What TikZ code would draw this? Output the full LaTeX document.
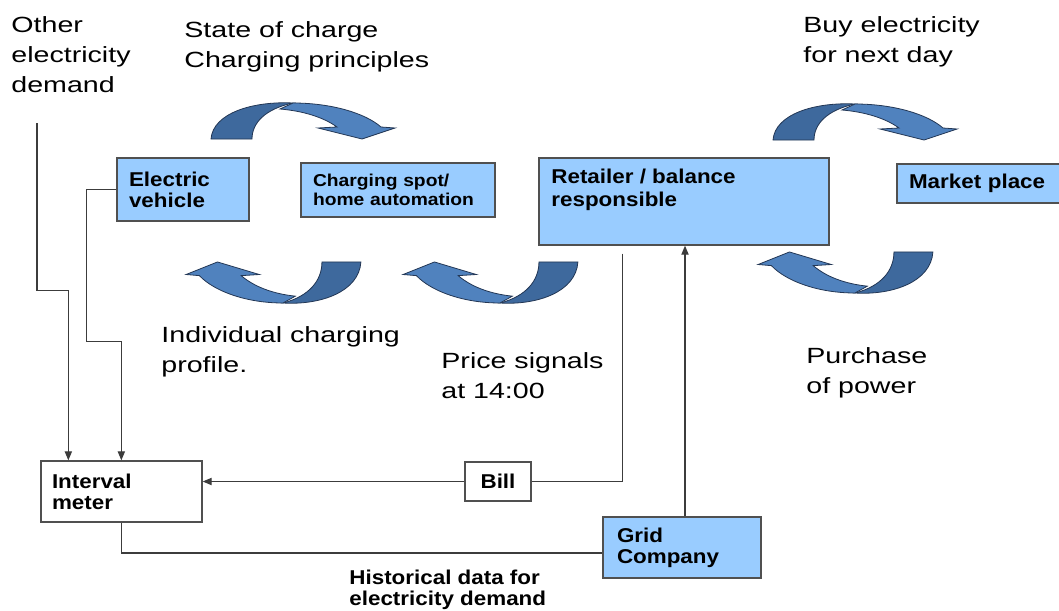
\documentclass[tikz,border=0pt]{standalone}
\usepackage{fontspec}
\setmainfont{Liberation Sans}[FakeStretch=1.3]
\newfontfamily\bxf{Liberation Sans}[FakeStretch=1.12]
\usetikzlibrary{arrows.meta,calc}
\definecolor{boxblue}{RGB}{153,204,255}
\definecolor{arrdark}{RGB}{62,105,157}
\definecolor{arrlight}{RGB}{80,130,190}
\definecolor{arredge}{RGB}{35,55,85}
\definecolor{linegray}{RGB}{60,60,60}
\definecolor{boxedge}{RGB}{80,80,80}
\begin{document}
\begin{tikzpicture}[x=0.5pt,y=-0.5pt,
  lbl/.style={anchor=north west, inner sep=0pt, align=left, font=\fontsize{11}{15}\selectfont},
  bxtxt/.style={font=\bxf\bfseries\fontsize{10}{10.5}\selectfont},
  bluebox/.style={draw=boxedge, line width=0.65pt, fill=boxblue, inner ysep=0pt, align=left, bxtxt},
  whitebox/.style={bluebox, fill=white},
  conn/.style={draw=linegray, line width=0.6pt},
  tip/.style={-{Triangle[length=4.5pt,width=3.6pt]}},
  pics/curvy/.style={code={
    \filldraw[fill=arrdark, draw=arredge, line width=0.4pt] (-82,36) .. controls (-80,10) and (-40,-2) .. (0,0) .. controls (-28,6) and (-41,20) .. (-41,36) -- cycle;
    \filldraw[fill=arrlight, draw=arredge, line width=0.4pt] (0,0) .. controls (38,0) and (72,10) .. (88,24) -- (102,25) -- (69,36) -- (25,25) -- (44,24) .. controls (30,14) and (10,8) .. (-13,6) -- cycle;
  }}]
\fill[white] (0,0) rectangle (1059,610);
\useasboundingbox (0,0) rectangle (1059,610);

% curved arrows
\pic at (293,103) {curvy};
\pic at (855,104) {curvy};
\pic[rotate=180, xscale=0.95, yscale=1.14] at (283,303) {curvy};
\pic[rotate=180, xscale=0.95, yscale=1.14] at (500,303) {curvy};
\pic[rotate=180, xscale=0.95, yscale=1.14] at (855,293) {curvy};

% boxes
\node[bluebox, minimum width=66pt, minimum height=31.5pt, text width=54pt, inner xsep=6pt] (ev) at (183,189.5) {Electric\\vehicle};
\node[bluebox, minimum width=97pt, minimum height=27pt, text width=85pt, inner xsep=6pt, font=\bxf\bfseries\fontsize{8.6}{9.5}\selectfont] (cs) at (398,190) {Charging spot/\\home automation};
\node[bluebox, minimum width=145pt, minimum height=43.5pt] (ret) at (684,201.5) {};
\node[anchor=north west, inner sep=0pt, align=left, font=\bxf\bfseries\fontsize{10}{11.5}\selectfont] (rettxt) at (551,168.5) {Retailer / balance\\responsible};
\node[bluebox, minimum width=84pt, minimum height=19.5pt, text width=72pt, inner xsep=6pt] (mkt) at (981,183.5) {Market place};
\node[whitebox, minimum width=80.5pt, minimum height=30.5pt, text width=69.5pt, inner xsep=5.5pt] (meter) at (121.5,491.5) {Interval\\meter};
\node[whitebox, minimum width=33pt, minimum height=19.5pt, inner xsep=0pt, align=center] (bill) at (498,481.5) {Bill};
\node[bluebox, minimum width=79pt, minimum height=30.5pt, text width=65pt, inner xsep=7pt] (grid) at (682,547.5) {Grid\\Company};

% labels
\node[lbl] (other) at (11,16) {Other\\electricity\\demand};
\node[lbl] (soc) at (184,21) {State of charge\\Charging principles};
\node[lbl] (buy) at (803,16) {Buy electricity\\for next day};
\node[lbl] (icp) at (161,326) {Individual charging\\profile.};
\node[lbl] (price) at (441,352) {Price signals\\at 14:00};
\node[lbl] (purch) at (806,347) {Purchase\\of power};
\node[anchor=north west, inner sep=0pt, align=left, font=\bxf\bfseries\fontsize{10}{10.5}\selectfont] (hist) at (349,569.5) {Historical data for\\electricity demand};

% connectors
\coordinate (o1) at (37,123);
\draw[conn, tip] (o1) |- ($(meter.north west)+(28,-170)$) -- ($(meter.north west)+(28,0)$);
\draw[conn, tip] (ev.west) -- ++(-30,0) |- ($(meter.north west)+(81,-119)$) -- ($(meter.north west)+(81,0)$);
\draw[conn] ($(ret.south west)+(84,8)$) |- (bill.east);
\draw[conn, tip] (bill.west) -- (bill.west -| meter.east);
\coordinate (g1) at ($(grid.north)+(3,0)$);
\draw[conn, tip] (g1) -- (g1 |- ret.south);
\draw[conn] (meter.south) |- ($(grid.west)+(0,5.5)$);
\end{tikzpicture}
\end{document}
